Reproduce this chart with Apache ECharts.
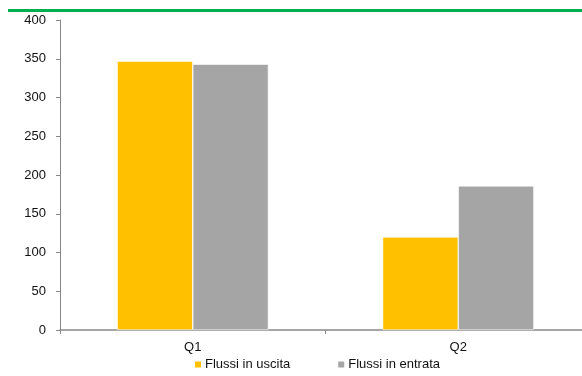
<!DOCTYPE html>
<html>
<head>
<meta charset="utf-8">
<script src="https://cdn.jsdelivr.net/npm/echarts@6/dist/echarts.min.js"></script>
<style>
  html, body { margin: 0; padding: 0; background: #fff; overflow: hidden; width: 582px; height: 376px; }
  #chart { width: 591px; height: 376px; }
</style>
</head>
<body>
<div id="chart"></div>
<script>
// Quarterly flows, in / out
const categories = ['Q1', 'Q2'];
const flussiUscita = [347, 120];
const flussiEntrata = [343, 186];
const yTicks = { min: 0, max: 400, interval: 50 };

const chart = echarts.init(document.getElementById('chart'));
const font = '"Liberation Sans", Arial, sans-serif';
const fs = 13;

chart.setOption({
  animation: false,
  textStyle: { fontFamily: font },
  graphic: [{
    type: 'rect',
    shape: { x: 8, y: 9, width: 583, height: 3 },
    style: { fill: '#00B050' },
    silent: true
  }],
  grid: { left: 60, top: 20, right: 0, bottom: 46, containLabel: false },
  legend: {
    top: 358,
    left: 193,
    padding: 0,
    itemWidth: 8,
    itemHeight: 8,
    itemGap: 46,
    icon: 'rect',
    textStyle: { fontFamily: font, fontSize: fs, color: '#111', padding: [0, 0, 0, -2] },
    data: ['Flussi in uscita', 'Flussi in entrata']
  },
  xAxis: {
    type: 'category',
    data: categories,
    axisLine: { lineStyle: { color: '#888', width: 1.5 } },
    axisTick: { show: true, length: 4, alignWithLabel: false, lineStyle: { color: '#888' } },
    axisLabel: { color: '#111', fontSize: fs, fontFamily: font, margin: 11 }
  },
  yAxis: {
    type: 'value',
    min: yTicks.min,
    max: yTicks.max,
    interval: yTicks.interval,
    splitLine: { show: false },
    axisLine: { show: true, lineStyle: { color: '#888' } },
    axisTick: { show: true, length: 4, lineStyle: { color: '#888' } },
    axisLabel: { color: '#111', fontSize: fs, fontFamily: font, margin: 14 }
  },
  series: [
    {
      name: 'Flussi in uscita',
      type: 'bar',
      data: flussiUscita,
      barGap: '0%',
      barCategoryGap: '43%',
      itemStyle: { color: '#FFC000', borderColor: '#fff', borderWidth: 0.6 }
    },
    {
      name: 'Flussi in entrata',
      type: 'bar',
      data: flussiEntrata,
      barGap: '0%',
      barCategoryGap: '43%',
      itemStyle: { color: '#A5A5A5', borderColor: '#fff', borderWidth: 0.6 }
    }
  ]
});
</script>
</body>
</html>
